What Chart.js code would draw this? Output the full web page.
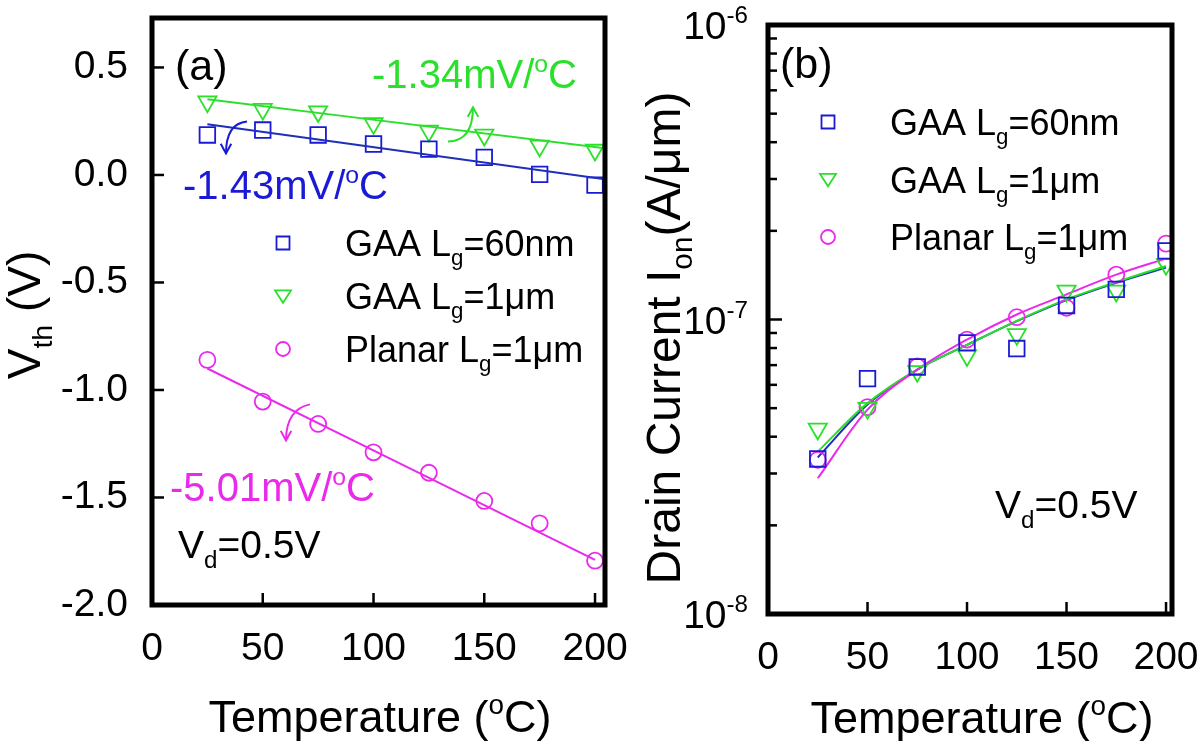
<!DOCTYPE html>
<html>
<head>
<meta charset="utf-8">
<script src="https://cdn.jsdelivr.net/npm/chart.js@4.4.1/dist/chart.umd.min.js"></script>
<style>
  body { margin: 0; background: #fff; width: 1200px; height: 741px; overflow: hidden; position: relative; }
  canvas { position: absolute; top: 0; }
  #vth { left: 0; }
  #ion { left: 640px; }
</style>
</head>
<body>
<canvas id="vth" width="640" height="741"></canvas>
<canvas id="ion" width="560" height="741"></canvas>
<script>
// temperatures (oC)
const temps = [25, 50, 75, 100, 125, 150, 175, 200];

// (a) threshold voltage, V
const vthGaa60 = [0.186, 0.209, 0.186, 0.144, 0.12, 0.082, 0.003, -0.047];
const vthGaa1 = [0.341, 0.306, 0.295, 0.24, 0.205, 0.186, 0.135, 0.116];
const vthPlanar = [-0.86, -1.054, -1.158, -1.29, -1.385, -1.516, -1.62, -1.794];
// linear fits
const vthFitX = [25, 204.5];
const vthFitGaa60 = [0.236, -0.02];
const vthFitGaa1 = [0.352, 0.124];
const vthFitPlanarX = [25, 200];
const vthFitPlanar = [-0.9, -1.79];

// (b) drain current, A/um
const ionGaa60 = [3.36e-8, 6.3e-8, 6.9e-8, 8.33e-8, 7.97e-8, 1.116e-7, 1.265e-7, 1.71e-7];
const ionGaa1 = [4.25e-8, 5.0e-8, 6.67e-8, 7.55e-8, 8.9e-8, 1.25e-7, 1.25e-7, 1.54e-7];
const ionPlanar = [3.34e-8, 5.04e-8, 6.93e-8, 8.55e-8, 1.018e-7, 1.096e-7, 1.42e-7, 1.81e-7];
// fitted curves (read at the same temperatures)
const ionFitGaa60 = [3.4e-8, 5.14e-8, 6.76e-8, 8.2e-8, 9.87e-8, 1.164e-7, 1.333e-7, 1.5e-7];
const ionFitGaa1 = [3.56e-8, 5.2e-8, 6.76e-8, 8.2e-8, 9.9e-8, 1.17e-7, 1.34e-7, 1.52e-7];
const ionFitPlanar = [2.89e-8, 4.94e-8, 6.76e-8, 8.55e-8, 1.04e-7, 1.217e-7, 1.42e-7, 1.61e-7];

const ionDecades = [1e-8, 1e-7, 1e-6];
const ionExponents = ['-8', '-7', '-6'];
const ionMinor = [2, 3, 4, 5, 6, 7, 8, 9];

const BLUE = '#1a1ad6';
const BLUE_LINE = '#1f2fb8';
const GREEN = '#2ae02a';
const MAGENTA = '#ea2aea';
const FONT = '"Liberation Sans", Arial, sans-serif';

const xy = (xs, ys) => xs.map((v, i) => ({ x: v, y: ys[i] }));

function rich(ctx, parts, x, y, size, color, align) {
  const small = size * 0.62;
  let w = 0;
  parts.forEach(p => {
    ctx.font = (p[1] ? small : size) + 'px ' + FONT;
    w += ctx.measureText(p[0]).width;
  });
  let cx = align === 'center' ? x - w / 2 : align === 'right' ? x - w : x;
  ctx.fillStyle = color;
  ctx.textAlign = 'left';
  ctx.textBaseline = 'alphabetic';
  parts.forEach(p => {
    ctx.font = (p[1] ? small : size) + 'px ' + FONT;
    const dy = p[1] === 'sub' ? size * 0.26 : p[1] === 'sup' ? -size * 0.4 : 0;
    ctx.fillText(p[0], cx, y + dy);
    cx += ctx.measureText(p[0]).width;
  });
}

function marker(ctx, style, x, y, r, color) {
  ctx.save();
  ctx.strokeStyle = color;
  ctx.lineWidth = 1.8;
  ctx.beginPath();
  if (style === 'rect') {
    ctx.rect(x - r, y - r, 2 * r, 2 * r);
  } else if (style === 'tri') {
    ctx.moveTo(x - r, y - r * 0.7);
    ctx.lineTo(x + r, y - r * 0.7);
    ctx.lineTo(x, y + r * 0.85);
    ctx.closePath();
  } else {
    ctx.arc(x, y, r, 0, Math.PI * 2);
  }
  ctx.stroke();
  ctx.restore();
}

function arrow(ctx, p0, c, p1, color) {
  ctx.save();
  ctx.strokeStyle = color;
  ctx.lineWidth = 2;
  ctx.beginPath();
  ctx.moveTo(p0[0], p0[1]);
  ctx.quadraticCurveTo(c[0], c[1], p1[0], p1[1]);
  ctx.stroke();
  const ang = Math.atan2(p1[1] - c[1], p1[0] - c[0]);
  ctx.beginPath();
  ctx.moveTo(p1[0] - 11 * Math.cos(ang - 0.5), p1[1] - 11 * Math.sin(ang - 0.5));
  ctx.lineTo(p1[0], p1[1]);
  ctx.lineTo(p1[0] - 11 * Math.cos(ang + 0.5), p1[1] - 11 * Math.sin(ang + 0.5));
  ctx.stroke();
  ctx.restore();
}

function frame(ctx, a) {
  ctx.strokeStyle = '#000';
  ctx.lineWidth = 5;
  ctx.strokeRect(a.left, a.top, a.right - a.left, a.bottom - a.top);
}

function tick(ctx, x0, y0, x1, y1) {
  ctx.beginPath();
  ctx.moveTo(x0, y0);
  ctx.lineTo(x1, y1);
  ctx.stroke();
}

function noPad(s) {
  s.paddingLeft = 0; s.paddingRight = 0; s.paddingTop = 0; s.paddingBottom = 0;
}

function pointSet(label, data, style, color) {
  const r = style === 'rect' ? 11 : style === 'tri' ? 10.5 : 8;
  return {
    label, data, showLine: false,
    pointStyle: style === 'tri' ? 'triangle' : style,
    rotation: style === 'tri' ? 180 : 0,
    pointRadius: r,
    pointHoverRadius: r,
    pointBorderWidth: 1.8,
    pointBorderColor: color,
    pointBackgroundColor: 'rgba(0,0,0,0)',
    borderColor: color
  };
}

function lineSet(label, data, color) {
  return {
    label, data, showLine: true, pointRadius: 0, borderWidth: 2,
    borderColor: color, fill: false, cubicInterpolationMode: 'monotone'
  };
}

const legendRows = [
  ['rect', BLUE, [['GAA L', ''], ['g', 'sub'], ['=60nm', '']]],
  ['tri', GREEN, [['GAA L', ''], ['g', 'sub'], ['=1μm', '']]],
  ['circle', MAGENTA, [['Planar L', ''], ['g', 'sub'], ['=1μm', '']]]
];
const markerSizes = { rect: 6.5, tri: 8, circle: 7 };

const tempLabel = [['Temperature (', ''], ['o', 'sup'], ['C)', '']];

// ---------- (a) ----------
const vthDeco = {
  id: 'vthDeco',
  afterDraw(chart) {
    const { ctx, chartArea: a, scales: { x, y } } = chart;
    ctx.save();
    ctx.strokeStyle = '#000';
    ctx.lineWidth = 2.5;
    y.ticks.forEach(t => { const py = y.getPixelForValue(t.value); tick(ctx, a.left, py, a.left + 12, py); });
    x.ticks.forEach(t => { const px = x.getPixelForValue(t.value); tick(ctx, px, a.bottom, px, a.bottom - 12); });
    frame(ctx, a);

    rich(ctx, [['(a)', '']], 175, 80, 43, '#000');
    rich(ctx, [['-1.34mV/', ''], ['o', 'sup'], ['C', '']], 372, 88, 40, GREEN);
    rich(ctx, [['-1.43mV/', ''], ['o', 'sup'], ['C', '']], 183, 199, 40, BLUE);
    rich(ctx, [['-5.01mV/', ''], ['o', 'sup'], ['C', '']], 170, 501, 40, MAGENTA);
    rich(ctx, [['V', ''], ['d', 'sub'], ['=0.5V', '']], 178, 558, 39, '#000');

    const P = (vx, vy) => [x.getPixelForValue(vx), y.getPixelForValue(vy)];
    arrow(ctx, P(133.6, 0.156), P(144.9, 0.156), P(144.9, 0.315), GREEN);
    arrow(ctx, P(42.9, 0.249), P(33.4, 0.24), P(33.4, 0.1), BLUE);
    arrow(ctx, P(71.3, -1.067), P(60.5, -1.09), P(60.5, -1.235), MAGENTA);

    legendRows.forEach((r, i) => {
      const cy = 243 + i * 53;
      marker(ctx, r[0], 283, cy, markerSizes[r[0]], r[1]);
      rich(ctx, r[2], 345, cy + 13, 36, '#000');
    });

    rich(ctx, tempLabel, 380, 732, 45, '#000', 'center');
    ctx.translate(40, 315);
    ctx.rotate(-Math.PI / 2);
    rich(ctx, [['V', ''], ['th', 'sub'], [' (V)', '']], 0, 0, 46, '#000', 'center');
    ctx.restore();
  }
};

new Chart(document.getElementById('vth'), {
  type: 'line',
  data: {
    datasets: [
      lineSet('fit GAA Lg=60nm', xy(vthFitX, vthFitGaa60), BLUE_LINE),
      lineSet('fit GAA Lg=1um', xy(vthFitX, vthFitGaa1), GREEN),
      lineSet('fit Planar Lg=1um', xy(vthFitPlanarX, vthFitPlanar), MAGENTA),
      pointSet('GAA Lg=60nm', xy(temps, vthGaa60), 'rect', BLUE),
      pointSet('GAA Lg=1um', xy(temps, vthGaa1), 'tri', GREEN),
      pointSet('Planar Lg=1um', xy(temps, vthPlanar), 'circle', MAGENTA)
    ]
  },
  options: {
    responsive: false,
    animation: false,
    layout: { padding: { top: 18, right: 35, bottom: 0, left: 0 } },
    plugins: { legend: { display: false }, tooltip: { enabled: false } },
    scales: {
      x: {
        type: 'linear', min: 0, max: 204.5,
        grid: { display: false, drawTicks: false },
        border: { display: false },
        ticks: { stepSize: 50, includeBounds: false, maxRotation: 0, padding: 21, color: '#000', font: { family: FONT, size: 39 } },
        afterFit(s) { s.height = 136; noPad(s); }
      },
      y: {
        type: 'linear', min: -2.0, max: 0.73,
        grid: { display: false, drawTicks: false },
        border: { display: false },
        ticks: { stepSize: 0.5, includeBounds: false, padding: 24, color: '#000', font: { family: FONT, size: 39 },
          callback: v => v.toFixed(1) },
        afterFit(s) { s.width = 152; noPad(s); }
      }
    }
  },
  plugins: [vthDeco]
});

// ---------- (b) ----------
const ionDeco = {
  id: 'ionDeco',
  afterDraw(chart) {
    const { ctx, chartArea: a, scales: { x, y } } = chart;
    ctx.save();
    ctx.strokeStyle = '#000';
    ctx.lineWidth = 2.5;
    ionDecades.forEach((d, i) => {
      const py = y.getPixelForValue(d);
      tick(ctx, a.left, py, a.left + 14, py);
      rich(ctx, [['10', ''], [ionExponents[i], 'sup']], a.left - 20, py + 14, 39, '#000', 'right');
      if (i < ionDecades.length - 1) {
        ionMinor.forEach(m => {
          const my = y.getPixelForValue(d * m);
          tick(ctx, a.left, my, a.left + 9, my);
        });
      }
    });
    x.ticks.forEach(t => { const px = x.getPixelForValue(t.value); tick(ctx, px, a.bottom, px, a.bottom - 12); });
    frame(ctx, a);

    rich(ctx, [['(b)', '']], 140, 78, 43, '#000');
    rich(ctx, [['V', ''], ['d', 'sub'], ['=0.5V', '']], 355, 518, 39, '#000');

    legendRows.forEach((r, i) => {
      const cy = 122 + i * 57.5;
      marker(ctx, r[0], 188, cy, markerSizes[r[0]], r[1]);
      rich(ctx, r[2], 250, cy + 13, 36, '#000');
    });

    rich(ctx, tempLabel, 342, 733, 45, '#000', 'center');
    ctx.translate(40, 338);
    ctx.rotate(-Math.PI / 2);
    rich(ctx, [['Drain Current I', ''], ['on', 'sub'], ['(A/μm)', '']], 0, 0, 48, '#000', 'center');
    ctx.restore();
  }
};

new Chart(document.getElementById('ion'), {
  type: 'line',
  data: {
    datasets: [
      pointSet('GAA Lg=60nm', xy(temps, ionGaa60), 'rect', BLUE),
      pointSet('GAA Lg=1um', xy(temps, ionGaa1), 'tri', GREEN),
      pointSet('Planar Lg=1um', xy(temps, ionPlanar), 'circle', MAGENTA),
      lineSet('fit Planar Lg=1um', xy(temps, ionFitPlanar), MAGENTA),
      lineSet('fit GAA Lg=1um', xy(temps, ionFitGaa1), GREEN),
      lineSet('fit GAA Lg=60nm', xy(temps, ionFitGaa60), BLUE_LINE)
    ]
  },
  options: {
    responsive: false,
    animation: false,
    layout: { padding: { top: 25, right: 28, bottom: 0, left: 0 } },
    plugins: { legend: { display: false }, tooltip: { enabled: false } },
    scales: {
      x: {
        type: 'linear', min: 0, max: 203,
        grid: { display: false, drawTicks: false },
        border: { display: false },
        ticks: { stepSize: 50, includeBounds: false, maxRotation: 0, padding: 21, color: '#000', font: { family: FONT, size: 39 } },
        afterFit(s) { s.height = 127; noPad(s); }
      },
      y: {
        type: 'logarithmic', min: 1e-8, max: 1e-6,
        grid: { display: false, drawTicks: false },
        border: { display: false },
        ticks: { display: false },
        afterFit(s) { s.width = 128; noPad(s); }
      }
    }
  },
  plugins: [ionDeco]
});
</script>
</body>
</html>
